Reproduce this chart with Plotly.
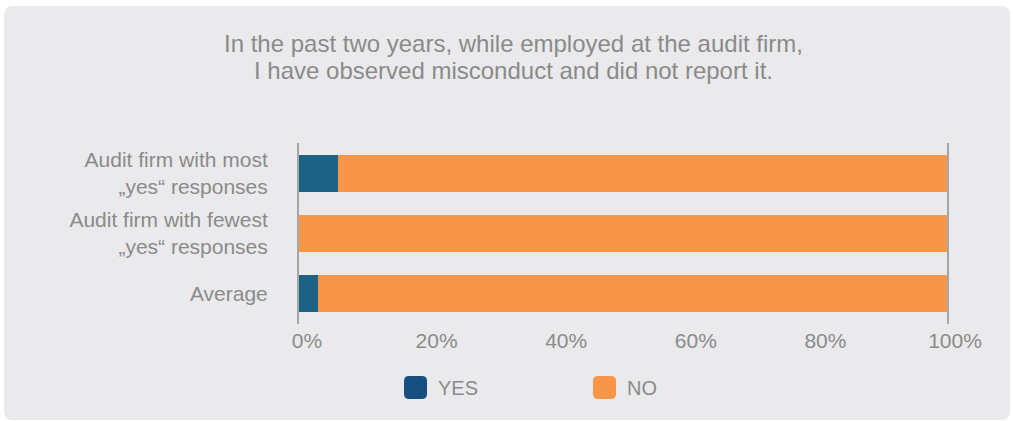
import plotly.graph_objects as go

# Survey answers, share of respondents in percent
categories = [
    "Audit firm with most<br>\u201eyes\u201c responses",
    "Audit firm with fewest<br>\u201eyes\u201c responses",
    "Average",
]
yes_share = [6, 0, 3]
no_share = [94, 100, 97]
x_ticks = [0, 20, 40, 60, 80, 100]
x_tick_labels = ["0%", "20%", "40%", "60%", "80%", "100%"]
title_lines = [
    "In the past two years, while employed at the audit firm,",
    "I have observed misconduct and did not report it.",
]

BLUE = "#1D6285"
BLUE_KEY = "#164F80"
ORANGE = "#F79646"
GREY_TEXT = "#8A8A8A"
PANEL = "#EAEAEC"
FONT = "Liberation Sans, Arial, sans-serif"

# plot area in pixels
PW, PH = 648, 181

fig = go.Figure()
fig.add_trace(go.Bar(y=categories, x=yes_share, orientation="h", name="YES",
                     marker=dict(color=BLUE, line=dict(width=0)), width=0.615,
                     showlegend=False, hoverinfo="x+y"))
fig.add_trace(go.Bar(y=categories, x=no_share, orientation="h", name="NO",
                     marker=dict(color=ORANGE, line=dict(width=0)), width=0.615,
                     showlegend=False, hoverinfo="x+y"))


def rounded_rect(x0, y0, x1, y1, r):
    return (f"M{x0 + r},{y0} L{x1 - r},{y0} Q{x1},{y0} {x1},{y0 + r} "
            f"L{x1},{y1 - r} Q{x1},{y1} {x1 - r},{y1} L{x0 + r},{y1} "
            f"Q{x0},{y1} {x0},{y1 - r} L{x0},{y0 + r} Q{x0},{y0} {x0 + r},{y0} Z")


shapes = [
    # grey rounded panel behind the whole chart (pixel offsets from plot's bottom-left)
    dict(type="path", xref="paper", yref="paper", xsizemode="pixel", ysizemode="pixel",
         xanchor=0, yanchor=0, path=rounded_rect(-295, -96, 711, 318, 9),
         fillcolor=PANEL, line=dict(width=0), layer="below"),
]

annotations = []
# two-line heading, set tighter than the default line height
for text, py in zip(title_lines, [280, 254]):
    annotations.append(dict(text=text, xref="paper", yref="paper", x=214 / PW, y=py / PH,
                            xanchor="center", yanchor="middle", showarrow=False,
                            font=dict(size=24, color=GREY_TEXT, family=FONT)))

# legend keys
legend_items = [("YES", BLUE_KEY, 105), ("NO", ORANGE, 294)]
for label, color, px in legend_items:
    shapes.append(dict(type="path", xref="paper", yref="paper", xsizemode="pixel",
                       ysizemode="pixel", xanchor=0, yanchor=0,
                       path=rounded_rect(px, -75, px + 23, -52, 5),
                       fillcolor=color, line=dict(width=0)))
    annotations.append(dict(text=label, xref="paper", yref="paper", x=(px + 32) / PW,
                            y=-63.5 / PH, xanchor="left", yanchor="middle",
                            showarrow=False, font=dict(size=20, color=GREY_TEXT, family=FONT)))

fig.update_layout(
    width=1013, height=421,
    margin=dict(l=299, r=66, t=143, b=97),
    paper_bgcolor="white", plot_bgcolor="rgba(0,0,0,0)",
    barmode="stack",
    font=dict(family=FONT, size=21, color=GREY_TEXT),
    xaxis=dict(range=[0, 100], tickvals=x_ticks, ticktext=x_tick_labels,
               showgrid=False, zeroline=False, showline=False, ticks="",
               ticklabelstandoff=2, ticklabelshift=8,
               tickfont=dict(size=21, color=GREY_TEXT), fixedrange=True),
    yaxis=dict(autorange="reversed", showgrid=False, zeroline=False,
               showline=True, mirror=True, linecolor="#A6A6A6", linewidth=2,
               ticks="", ticklabelstandoff=25,
               tickfont=dict(size=21, color=GREY_TEXT), fixedrange=True),
    shapes=shapes,
    annotations=annotations,
    bargap=0.385,
)

fig.write_html("out.html")
